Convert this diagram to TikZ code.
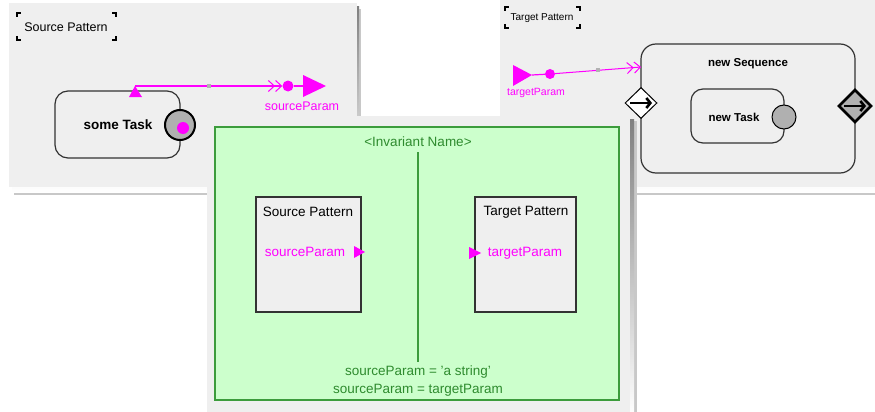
\documentclass[tikz,border=0pt]{standalone}
\usepackage{fontspec}
\setmainfont{Liberation Sans}
\usetikzlibrary{shapes.geometric,arrows.meta}
\definecolor{panel}{HTML}{EFEFEF}
\definecolor{mag}{HTML}{FF00FF}
\definecolor{gfill}{HTML}{CCFFCC}
\definecolor{gline}{HTML}{3C9C3C}
\definecolor{gtext}{HTML}{2E8B2E}
\definecolor{portgray}{HTML}{B0B0B0}
\definecolor{shade}{HTML}{9A9A9A}
\definecolor{shadelight}{HTML}{C8C8C8}
\definecolor{frame}{HTML}{333333}
\begin{document}
\begin{tikzpicture}[x=1pt,y=-1pt,
  txt/.style={font=\fontsize{#1}{#1}\selectfont, inner sep=0},
  btxt/.style={font=\fontsize{#1}{#1}\selectfont\bfseries, inner sep=0},
  brk/.style={line width=1.3pt, draw=black},
  taskbox/.style={draw=frame, line width=1.2pt, fill=panel, rounded corners=13pt, inner sep=0},
  porthole/.style={circle, draw=black, fill=portgray, inner sep=0},
  magdot/.style={circle, fill=mag, inner sep=0},
  midsq/.style={fill=gray!60, minimum size=4pt, inner sep=0},
  magline/.style={draw=mag, line width=1.2pt},
  barb/.style={-{Straight Barb[length=6pt,width=11pt,line width=1pt]Straight Barb[length=6pt,width=11pt,line width=1pt]}},
  dia/.style={diamond, draw=black, inner sep=0},
  patbox/.style={draw=frame, line width=1.5pt, fill=panel, inner sep=0},
  garrow/.style={line width=2.6pt, -{Straight Barb[length=4pt,width=10pt]}}
]
\useasboundingbox (0,0) rectangle (875,412);
\fill[white] (0,0) rectangle (875,412);

% ---------- left panel (source pattern) ----------
\fill[shadelight] (14,9) rectangle (361,195);
\fill[shade] (12,7) rectangle (359,192);
\fill[panel] (9,3) rectangle (357,187);
\node[txt=12.5] (srcTitle) at (66,27) {Source Pattern};
\draw[brk] (17,17) |- (21,13);  \draw[brk] (112,13) -| (116,17);
\draw[brk] (17,36) |- (21,40);  \draw[brk] (112,40) -| (116,36);

\node[taskbox, minimum width=125pt, minimum height=67pt] (someTask) at (117.5,124.5) {};
\node[btxt=13.5] (someTaskLbl) at (118,125) {some Task};
\node[porthole, line width=2pt, minimum size=30pt] (stPort) at (180,125) {};
\node[magdot, minimum size=12pt] (stDot) at (183,128) {};

\coordinate (stTop) at (135,86);
\fill[mag] (129,97) -- (135,86) -- (142,97) -- cycle;
\node[magdot, minimum size=11pt] (sDot) at (288,86) {};
\coordinate (sPort) at (303,86);
\fill[mag] (303,75) -- (326,86) -- (303,97) -- cycle;
\draw[magline, barb] (stTop) -- node[midsq]{} (sDot.west);
\draw[magline] (sDot) -- (sPort);
\node[txt=12.5, text=mag] (sParamLbl) at (302,106) {sourceParam};

% ---------- right panel (target pattern) ----------
\fill[shadelight] (505,6) rectangle (880,195);
\fill[shade] (503,4) rectangle (880,192);
\fill[panel] (500,0) rectangle (876,187);
\node[txt=10] (tgtTitle) at (542,18) {Target Pattern};
\draw[brk] (505,11) |- (509,7);   \draw[brk] (576,7) -| (580,11);
\draw[brk] (505,24) |- (509,28);  \draw[brk] (576,28) -| (580,24);

\node[taskbox, rounded corners=15pt, minimum width=214pt, minimum height=129pt] (newSeq) at (748,108.5) {};
\node[btxt=11.5] (newSeqLbl) at (748,64) {new Sequence};
\node[taskbox, rounded corners=12pt, minimum width=93pt, minimum height=54pt] (newTask) at (737.5,116) {};
\node[btxt=11.5] (newTaskLbl) at (734,117) {new Task};
\node[porthole, line width=1pt, minimum size=24pt] (ntPort) at (784,117) {};

\node[dia, fill=white, line width=1pt, minimum width=32pt, minimum height=31pt] (seqIn) at (641,103) {};
\draw[garrow] ([xshift=-11pt]seqIn.center) -- ([xshift=11pt]seqIn.center);
\node[dia, fill=portgray, line width=2.6pt, minimum width=33pt, minimum height=33pt] (seqOut) at (855,106) {};
\draw[garrow] ([xshift=-11pt]seqOut.center) -- ([xshift=11pt]seqOut.center);

\coordinate (tPort) at (532,75);
\fill[mag] (513,65) -- (532,75) -- (513,86) -- cycle;
\node[magdot, minimum size=10pt] (tDot) at (550,74) {};
\coordinate (seqEntry) at (641,67);
\draw[magline] (tPort) -- (tDot);
\draw[magline, line width=1pt, barb] (tDot) -- node[midsq]{} (seqEntry);
\node[txt=10.5, text=mag] (tParamLbl) at (536,93) {targetParam};

% ---------- middle panel (invariant) ----------
\fill[shadelight] (212,121) rectangle (637,416);
\fill[shade] (210,119) rectangle (634,416);
\fill[panel] (207,116) rectangle (630,412);
\node[draw=gline, line width=1.3pt, fill=gfill, minimum width=404pt, minimum height=273pt, inner sep=0] (inv) at (417,263.5) {};
\node[txt=13.5, text=gtext] (invName) at (418,142) {<Invariant Name>};
\coordinate (divTop) at (418,152);
\coordinate (divBot) at (418,362);
\draw[gline, line width=1.3pt] (divTop) -- (divBot);

\node[patbox, minimum width=105pt, minimum height=115pt] (srcBox) at (308.5,254.5) {};
\node[txt=13.5] (srcBoxLbl) at (308,212) {Source Pattern};
\node[txt=13.5, text=mag] (srcParam) at (305,252) {sourceParam};
\fill[mag] (354,246) -- (365,252) -- (354,258) -- cycle;

\node[patbox, minimum width=101pt, minimum height=115pt] (tgtBox) at (525.5,254.5) {};
\node[txt=13.5] (tgtBoxLbl) at (526,212) {Target Pattern};
\node[txt=13.5, text=mag] (tgtParam) at (525,253) {targetParam};
\fill[mag] (469,247) -- (481,253) -- (469,259) -- cycle;

\node[txt=13.5, text=gtext] (cons1) at (418,372) {sourceParam = 'a string'};
\node[txt=13.5, text=gtext] (cons2) at (418,390) {sourceParam = targetParam};
\end{tikzpicture}
\end{document}
